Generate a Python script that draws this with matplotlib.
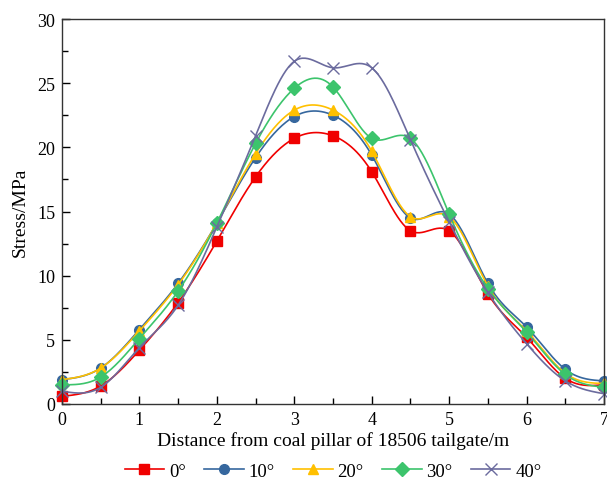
import numpy as np
import matplotlib
matplotlib.use('Agg')
import matplotlib.pyplot as plt
from matplotlib.ticker import MultipleLocator

plt.rcParams['font.family'] = ['Liberation Serif', 'DejaVu Serif']

dist = [0, 0.5, 1, 1.5, 2, 2.5, 3, 3.5, 4, 4.5, 5, 5.5, 6, 6.5, 7]

stress_0 = [0.6, 1.4, 4.2, 7.9, 12.7, 17.7, 20.7, 20.9, 18.1, 13.5, 13.5, 8.6, 5.2, 2.0, 1.5]
stress_10 = [1.9, 2.8, 5.8, 9.4, 14.1, 19.2, 22.4, 22.5, 19.4, 14.5, 14.8, 9.4, 6.0, 2.7, 1.8]
stress_20 = [1.9, 2.8, 5.7, 9.3, 14.1, 19.5, 22.9, 22.9, 19.7, 14.6, 14.6, 9.2, 5.7, 2.4, 1.6]
stress_30 = [1.5, 2.1, 5.1, 8.8, 14.1, 20.3, 24.6, 24.7, 20.7, 20.7, 14.8, 9.0, 5.6, 2.3, 1.3]
stress_40 = [1.0, 1.3, 4.4, 7.7, 13.8, 20.9, 26.7, 26.2, 26.2, 20.6, 14.2, 8.7, 4.7, 1.8, 0.8]

labels = ['0°', '10°', '20°', '30°', '40°']
colors = ['#F00000', '#36679E', '#FFC000', '#3CC46C', '#6B6B9E']
markers = ['s', 'o', '^', 'D', 'x']


def natural_spline(x, y, n=400):
    x = np.asarray(x, float)
    y = np.asarray(y, float)
    k = len(x)
    h = np.diff(x)
    A = np.zeros((k, k))
    b = np.zeros(k)
    A[0, 0] = A[-1, -1] = 1
    for i in range(1, k - 1):
        A[i, i - 1] = h[i - 1]
        A[i, i] = 2 * (h[i - 1] + h[i])
        A[i, i + 1] = h[i]
        b[i] = 3 * ((y[i + 1] - y[i]) / h[i] - (y[i] - y[i - 1]) / h[i - 1])
    c = np.linalg.solve(A, b)
    xs = np.linspace(x[0], x[-1], n)
    idx = np.clip(np.searchsorted(x, xs) - 1, 0, k - 2)
    dx = xs - x[idx]
    bb = (y[1:] - y[:-1]) / h - h * (2 * c[:-1] + c[1:]) / 3
    dd = (c[1:] - c[:-1]) / (3 * h)
    ys = y[idx] + bb[idx] * dx + c[idx] * dx ** 2 + dd[idx] * dx ** 3
    return xs, ys


fig = plt.figure(figsize=(6.07, 4.81), dpi=100)
ax = fig.add_axes([62 / 607, 76 / 481, 542 / 607, 385 / 481])

series = [stress_0, stress_10, stress_20, stress_30, stress_40]
for vals, lab, col, mk in zip(series, labels, colors, markers):
    xs, ys = natural_spline(dist, vals)
    ax.plot(xs, ys, color=col, lw=1.2, clip_on=False)
    ms = 7 if mk != 'x' else 8
    ax.plot(dist, vals, ls='none', marker=mk, color=col, ms=ms,
            mew=1.0, clip_on=False)
    ax.plot([], [], color=col, lw=1.2, marker=mk, ms=ms, label=lab)

ax.set_xlim(0, 7)
ax.set_ylim(0, 30)
ax.xaxis.set_major_locator(MultipleLocator(1))
ax.xaxis.set_minor_locator(MultipleLocator(0.5))
ax.yaxis.set_major_locator(MultipleLocator(5))
ax.yaxis.set_minor_locator(MultipleLocator(2.5))
ax.tick_params(which='both', direction='in', top=False, right=False,
               labelsize=13, width=1.0, pad=5)
ax.tick_params(which='major', length=6)
ax.tick_params(which='minor', length=4)
for s in ax.spines.values():
    s.set_linewidth(1.0)
    s.set_color('#333333')

ax.set_xlabel('Distance from coal pillar of 18506 tailgate/m', fontsize=14, labelpad=2)
ax.set_ylabel('Stress/MPa', fontsize=14, labelpad=6)

ax.legend(loc='upper center', bbox_to_anchor=(0.5, -0.108), ncol=5,
          frameon=False, fontsize=13.5, handlelength=2.1, columnspacing=1.0,
          handletextpad=0.25)

fig.savefig('out.png', dpi=100)
